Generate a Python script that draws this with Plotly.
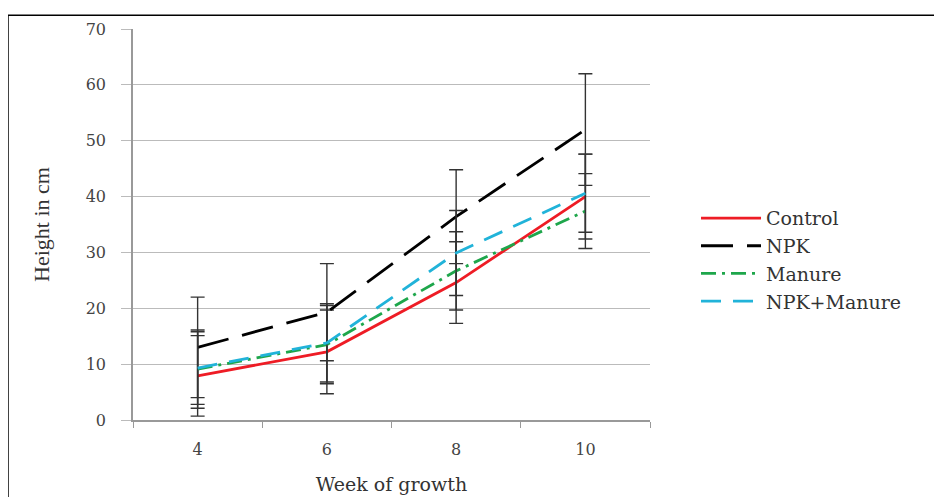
import plotly.graph_objects as go

weeks = ["4", "6", "8", "10"]
control = [7.9, 12.2, 24.6, 40.0]
npk = [13.0, 19.3, 36.4, 52.0]
manure = [9.1, 13.5, 26.7, 37.4]
npk_manure = [9.3, 13.8, 29.9, 40.6]
err_control = [7.2, 7.5, 7.3, 7.6]
err_npk = [9.0, 8.7, 8.4, 10.0]
err_manure = [7.0, 7.0, 7.0, 6.7]
err_npk_manure = [6.5, 7.0, 7.6, 7.0]

y_ticks = [0, 10, 20, 30, 40, 50, 60, 70]

series = [
    ("Control", control, err_control, "#ee1c25", "solid"),
    ("NPK", npk, err_npk, "#000000", "32px,14px"),
    ("Manure", manure, err_manure, "#1ea64b", "longdashdot"),
    ("NPK+Manure", npk_manure, err_npk_manure, "#21b3d9", "20px,12px"),
]

fig = go.Figure()
for name, vals, errs, color, dash in series:
    fig.add_trace(go.Scatter(
        x=weeks, y=vals, name=name, mode="lines",
        line=dict(color=color, width=2.8, dash=dash),
        error_y=dict(type="data", array=errs, visible=True,
                     color="#333333", thickness=1.4, width=7),
    ))

serif = "DejaVu Serif, Liberation Serif, serif"
fig.update_layout(
    width=942, height=497,
    margin=dict(l=125, r=300, t=14, b=85),
    paper_bgcolor="white", plot_bgcolor="white",
    font=dict(family=serif, color="#444444"),
    showlegend=True,
    legend=dict(x=1.089, y=0.41, xanchor="left", yanchor="middle",
                font=dict(size=19, color="#333333", family=serif),
                tracegroupgap=0, itemwidth=60, bgcolor="rgba(0,0,0,0)"),
    xaxis=dict(
        type="category", range=[-0.5, 3.5],
        showgrid=False, showline=True, linecolor="#999999", linewidth=1.5,
        ticks="outside", tickson="boundaries", ticklen=6, tickcolor="#999999",
        tickfont=dict(size=16, color="#444444"), ticklabelstandoff=14,
        title=dict(text="Week of growth", font=dict(size=19, color="#333333"), standoff=20),
    ),
    yaxis=dict(
        range=[0, 70], tickvals=y_ticks,
        showgrid=True, gridcolor="#bbbbbb", gridwidth=1.3,
        showline=True, linecolor="#999999", linewidth=1.5,
        ticks="outside", ticklen=10, tickcolor="#bbbbbb",
        tickfont=dict(size=16, color="#444444"), ticklabelstandoff=12, zeroline=False,
        title=dict(text="Height in cm",
                   font=dict(size=22, color="#333333", family="Liberation Serif, serif"),
                   standoff=30),
    ),
    shapes=[dict(type="rect", xref="paper", yref="paper",
                 x0=-0.2418, x1=1.563, y0=-0.23, y1=1.035,
                 line=dict(color="black", width=1.5), fillcolor="rgba(0,0,0,0)")],
)

fig.write_html("out.html")
